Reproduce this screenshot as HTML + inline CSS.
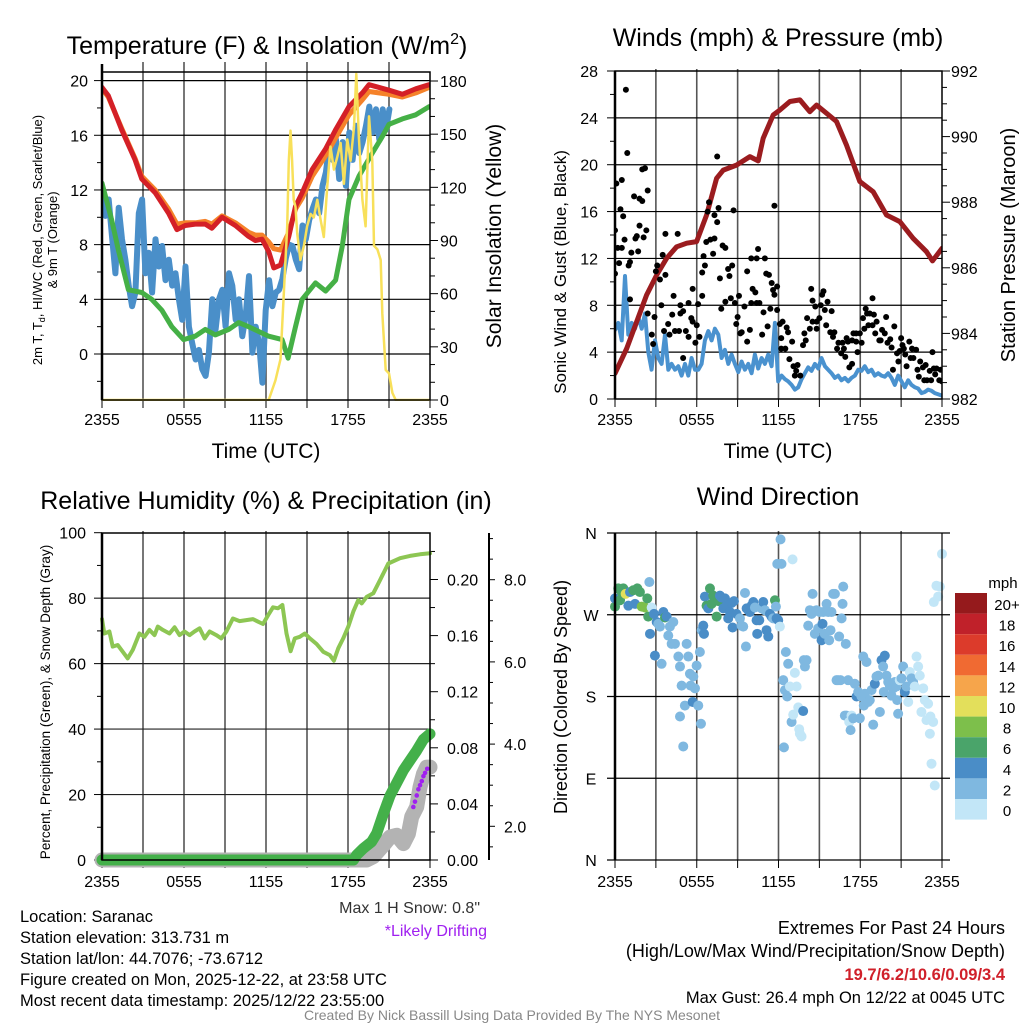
<!DOCTYPE html>
<html><head><meta charset="utf-8"><style>
body{margin:0;background:#fff;}
svg{display:block;font-family:"Liberation Sans",Arial,sans-serif;}
</style></head><body>
<svg id="chart" width="1024" height="1024" viewBox="0 0 1024 1024" xmlns="http://www.w3.org/2000/svg">
<defs>
<clipPath id="c1"><rect x="102" y="60" width="328" height="341"/></clipPath>
<clipPath id="c2"><rect x="615" y="71" width="327" height="330"/></clipPath>
<clipPath id="c3"><rect x="90" y="520" width="352" height="350"/></clipPath>
<clipPath id="c4"><rect x="610" y="525" width="337" height="340"/></clipPath>
</defs>
<g id="g1"></g>
<g id="g2"></g>
<g id="g3"></g>
<g id="g4"></g>
<g id="gt">
<text x="267" y="54" font-size="25" text-anchor="middle">Temperature (F) &amp; Insolation (W/m<tspan dy="-10" font-size="16">2</tspan><tspan dy="10">)</tspan></text>
<text x="778" y="46" font-size="25" text-anchor="middle">Winds (mph) &amp; Pressure (mb)</text>
<text x="266" y="509" font-size="25" text-anchor="middle">Relative Humidity (%) &amp; Precipitation (in)</text>
<text x="778" y="505" font-size="25" text-anchor="middle">Wind Direction</text>
<text x="266" y="458" font-size="21" text-anchor="middle">Time (UTC)</text>
<text x="778" y="458" font-size="21" text-anchor="middle">Time (UTC)</text>
<text transform="translate(42,240) rotate(-90)" font-size="13" text-anchor="middle">2m T, T<tspan dy="3" font-size="9">d</tspan><tspan dy="-3">, HI/WC (Red, Green, Scarlet/Blue)</tspan></text>
<text transform="translate(57,240) rotate(-90)" font-size="13" text-anchor="middle">&amp; 9m T (Orange)</text>
<text transform="translate(501,236) rotate(-90)" font-size="21" text-anchor="middle">Solar Insolation (Yellow)</text>
<text transform="translate(566,272) rotate(-90)" font-size="17" text-anchor="middle">Sonic Wind &amp; Gust (Blue, Black)</text>
<text transform="translate(1015,245) rotate(-90)" font-size="20" text-anchor="middle">Station Pressure (Maroon)</text>
<text transform="translate(50,702) rotate(-90)" font-size="13.5" text-anchor="middle">Percent, Precipitation (Green), &amp; Snow Depth (Gray)</text>
<text transform="translate(567,697) rotate(-90)" font-size="18" text-anchor="middle">Direction (Colored By Speed)</text>
<text x="480" y="913" font-size="16" text-anchor="end" fill="#333">Max 1 H Snow: 0.8"</text>
<text x="487" y="936" font-size="16" text-anchor="end" fill="#a020f0">*Likely Drifting</text>
<g font-size="16.5">
<text x="20" y="922">Location: Saranac</text>
<text x="20" y="943">Station elevation: 313.731 m</text>
<text x="20" y="964">Station lat/lon: 44.7076; -73.6712</text>
<text x="20" y="985">Figure created on Mon, 2025-12-22, at 23:58 UTC</text>
<text x="20" y="1006">Most recent data timestamp: 2025/12/22 23:55:00</text>
</g>
<g font-size="18" text-anchor="end">
<text x="1005" y="934">Extremes For Past 24 Hours</text>
<text x="1005" y="957">(High/Low/Max Wind/Precipitation/Snow Depth)</text>
<text x="1005" y="980" font-size="16.5" font-weight="bold" fill="#d0202a">19.7/6.2/10.6/0.09/3.4</text>
<text x="1005" y="1003" font-size="16.5">Max Gust: 26.4 mph On 12/22 at 0045 UTC</text>
</g>
<text x="512" y="1020" font-size="14" fill="#888" text-anchor="middle">Created By Nick Bassill Using Data Provided By The NYS Mesonet</text>
</g>
</svg>
<script>
// ---------- data ----------
const xTickLabels = ["2355","0555","1155","1755","2355"];
const tempTicks = [20,16,12,8,4,0];
const solarTicks = [180,150,120,90,60,30,0];
const windTicks = [28,24,20,16,12,8,4,0];
const presTicks = [992,990,988,986,984,982];
const rhTicks = [100,80,60,40,20,0];
const precipTicks = ["0.20","0.16","0.12","0.08","0.04","0.00"];
const snowTicks = ["8.0","6.0","4.0","2.0"];
const dirTicks = ["N","W","S","E","N"];
const dirTickDeg = [360,270,180,90,0];

const redT = [0,0.46,1.44,2.42,2.91,3.89,4.87,5.48,6.09,6.82,7.56,8.04,8.78,9.76,10.73,11.22,11.71,12.2,12.57,13.06,13.67,14.16,14.65,15.38,16.36,17.09,18.07,19.05,19.54,21.0,21.98,22.96,23.94];
const redV = [19.5,18.9,16.4,14.2,12.8,11.8,10.3,9.1,9.4,9.5,9.5,9.2,10.0,9.4,8.6,8.3,8.4,7.5,6.3,6.5,8.6,10.8,11.8,13.5,15.0,16.4,18.1,19.1,19.7,19.3,19.0,19.4,19.7];
const orangeV = [19.4,18.8,16.5,14.3,13.0,12.0,10.6,9.5,9.6,9.6,9.7,9.5,10.1,9.6,8.9,8.7,8.7,8.2,7.7,7.6,8.9,10.6,11.4,13.0,14.5,15.8,17.5,18.6,19.2,19.0,18.8,19.1,19.5];
const greenT = [0,0.71,1.2,1.93,2.91,3.64,4.38,5.11,5.97,6.82,7.56,8.29,9.27,10.0,10.73,12.2,13.18,13.62,14.16,14.65,15.62,16.36,17.09,17.58,18.07,18.8,19.78,20.51,21.0,21.98,22.96,23.94];
const greenV = [12.5,9.8,7.6,4.7,4.5,4.0,3.2,2.0,1.05,1.3,1.8,1.4,1.8,2.3,2.0,1.3,1.05,-0.3,2.0,4.0,5.2,4.6,5.4,7.9,11.3,13.0,14.7,15.9,16.8,17.2,17.5,18.1];
const blueStart = 0, blueStep = 0.2445;
const blueV = [11.8,10.1,11.3,8.6,5.9,10.7,8.4,6.9,5.0,3.5,4.5,10.3,11.3,5.9,7.4,4.5,8.4,6.4,7.9,5.4,6.9,5.0,5.9,4.0,2.5,6.4,2.0,0.8,-0.4,0.3,-1.1,-1.6,0.1,4.0,1.8,4.0,4.7,2.0,5.9,5.0,2.5,4.0,1.3,2.8,5.7,0.1,2.0,0.8,-2.1,3.2,5.4,3.5,4.5,4.7,5.5,7.0,8.0,7.9,6.9,6.2,9.4,8.4,9.8,10.6,11.3,10.3,12.3,13.3,15.2,14.2,15.7,12.8,15.5,12.3,16.2,14.2,16.7,14.7,15.5,16.7,18.1,16.2,17.9,15.7,17.9,16.4,17.9];
const solarT = [0,12.2,12.69,13.06,13.3,13.55,13.67,13.79,13.91,14.03,14.16,14.28,14.52,14.77,15.01,15.26,15.5,15.75,15.99,16.23,16.48,16.72,16.97,17.21,17.46,17.7,17.95,18.19,18.44,18.61,18.8,19.05,19.29,19.54,19.78,19.9,20.15,20.39,20.51,20.76,21.0,21.25,21.49,24.0];
const solarV = [0,0,11,23,60,98,135,152,135,113,109,94,79,87,98,105,103,113,102,92,120,143,130,137,145,122,147,135,154,184,148,113,98,160,135,87,85,79,49,17,15,4,0,0];

const presT = [0,0.86,1.59,2.32,3.06,3.79,4.52,5.26,5.99,6.72,7.46,7.95,8.92,9.9,10.51,10.88,11.61,12.1,12.84,13.57,14.3,14.79,15.53,16.26,16.99,17.97,18.95,19.93,20.9,21.88,22.86,23.3,24.0];
const presV = [982.78,983.54,984.36,985.17,985.78,986.29,986.64,986.75,986.8,987.61,988.73,988.98,989.13,989.39,989.26,989.95,990.66,990.81,991.07,991.12,990.76,990.96,990.71,990.46,989.74,988.63,988.32,987.61,987.41,986.9,986.49,986.21,986.59];
const windStart = 0, windStep = 0.2445;
const windV = [5.9,6.5,5.0,10.5,5.5,6.5,6.0,7.0,6.0,7.3,4.0,2.5,5.0,3.5,3.0,5.5,2.5,3.0,2.5,2.8,2.0,3.0,2.0,3.5,2.5,2.5,3.0,5.0,5.8,5.0,6.0,5.5,3.5,4.2,3.0,3.8,3.0,2.3,3.2,2.5,3.0,2.2,3.8,2.6,3.5,3.0,3.8,2.8,6.5,1.5,2.0,1.7,1.5,1.2,0.8,1.0,1.7,2.2,2.7,2.4,3.0,2.6,3.5,2.8,2.5,2.2,1.8,2.0,1.6,1.8,1.5,1.8,2.0,2.5,2.4,2.8,2.3,2.5,2.0,2.2,2.0,1.9,2.2,1.8,1.2,2.0,1.5,1.0,1.6,1.2,1.0,0.9,0.5,0.6,0.8,0.7,0.5,0.4,0.3];
const gustT = [0,0,0.1,0.2,0.3,0.4,0.5,0.6,0.5,0.8,0.9,0.7,1.0,1.1,1.1,1.2,1.4,1.5,1.6,1.7,1.8,1.8,2.0,2.0,2.1,2.2,2.3,2.4,2.4,2.7,2.8,2.9,3.0,3.1,3.3,3.4,3.5,3.6,3.7,3.7,3.9,4.0,4.2,4.3,4.4,4.6,4.7,4.8,4.8,5.0,5.0,5.2,5.4,5.4,5.6,5.7,5.7,5.9,6.0,6.1,6.2,6.4,6.4,6.5,6.6,6.7,6.8,6.9,7.0,7.2,7.3,7.3,7.5,7.5,7.6,7.7,7.8,7.9,8.1,8.1,8.3,8.4,8.5,8.6,8.7,8.8,8.9,9.0,9.1,9.2,9.3,9.5,9.7,9.7,9.9,10.0,10.0,10.1,10.3,10.4,10.4,10.5,10.6,10.8,10.9,11.0,11.1,11.2,11.3,11.4,11.5,11.6,11.7,11.7,11.9,11.9,12.1,12.2,12.2,12.3,12.5,12.6,12.7,12.8,13.0,13.1,13.2,13.3,13.4,13.6,13.8,13.9,14.0,14.1,14.3,14.4,14.5,14.5,14.7,14.8,14.8,15.0,15.1,15.2,15.3,15.4,15.5,15.6,15.8,15.9,16.0,16.1,16.3,16.4,16.6,16.7,16.8,16.9,17.0,17.1,17.2,17.4,17.4,17.5,17.7,17.7,17.8,17.97,18.1,18.2,18.3,18.4,18.5,18.6,18.7,18.9,18.9,19.0,19.1,19.2,19.4,19.5,19.6,19.8,19.9,20.0,20.2,20.3,20.4,20.5,20.7,20.8,20.9,21.0,21.1,21.2,21.3,21.4,21.6,21.7,21.8,21.9,22.1,22.2,22.3,22.4,22.6,22.7,22.8,22.9,23.1,23.2,23.3,23.4,23.5,23.6,23.8,23.9,24.0];
const gustV = [14.4,10.7,18.4,12.9,11.6,16.2,12.9,15.6,18.7,26.4,21.0,13.6,11.4,8.5,11.7,12.5,17.3,13.7,13.9,12.6,14.8,17.1,16.9,19.6,13.8,19.7,14.4,17.8,7.3,5.5,4.7,7.0,10.9,11.4,10.2,8.0,12.3,5.8,14.1,10.6,6.4,5.5,7.2,8.8,5.8,14.1,5.8,8.0,7.3,7.5,3.5,5.8,5.3,8.2,6.9,9.4,6.6,4.8,6.3,8.1,5.3,8.8,10.8,12.2,11.4,13.4,16.0,16.8,13.6,12.4,15.7,13.7,20.7,15.1,16.3,10.3,7.7,13.1,12.9,8.3,11.1,10.5,8.6,11.4,16.1,8.2,6.4,7.0,8.8,5.6,5.7,7.9,10.9,4.9,5.9,8.2,12.0,9.4,9.1,8.2,12.0,12.8,8.2,5.5,7.4,12.0,10.7,6.2,10.6,7.7,9.9,9.3,16.5,8.9,7.6,9.6,6.4,5.2,4.3,6.6,4.3,6.1,5.7,3.4,4.9,2.8,2.0,2.4,2.9,2.0,4.6,5.6,5.0,6.9,6.0,9.4,8.4,6.6,7.9,6.6,6.0,6.9,8.0,8.9,9.2,7.6,6.3,8.3,5.7,7.5,5.3,5.7,4.3,4.8,3.9,4.8,4.3,3.6,5.2,4.9,2.7,5.0,3.0,5.6,4.9,5.6,4.0,5.6,4.8,6.9,6.0,7.7,7.3,6.3,7.3,8.6,6.3,7.2,5.6,6.6,5.0,5.0,5.9,5.6,7.0,4.8,5.1,4.4,2.5,6.2,3.9,3.2,4.1,5.2,4.6,4.3,3.8,2.8,4.9,3.5,4.3,3.5,4.2,2.5,1.9,3.2,2.7,1.6,2.9,1.6,2.4,1.6,4.0,2.6,2.1,2.6,1.6,2.5,1.5];

const rhT = [0,0.17,0.54,0.78,1.15,1.52,1.88,2.25,2.74,3.1,3.47,3.84,4.08,4.45,4.94,5.31,5.67,6.04,6.41,6.77,7.14,7.51,7.87,8.36,8.73,9.1,9.58,10.07,10.56,11.05,11.42,11.78,12.15,12.51,12.88,13.2,13.5,13.8,14.11,14.47,14.84,15.21,15.7,16.19,16.67,16.97,17.29,17.65,18.02,18.39,18.75,19.0,19.36,19.85,20.34,20.95,21.81,22.54,23.27,24.0];
const rhV = [73.6,69.2,69.8,65.2,65.7,63.6,61.6,64.2,69.2,68.2,70.3,68.7,71.3,70.3,69.2,71.1,68.7,69.8,68.7,69.8,70.8,67.7,69.8,68.7,67.7,69.8,73.8,73.0,73.3,73.6,72.8,72.1,74.8,77.2,76.9,77.9,69.2,63.8,67.7,68.2,69.2,67.7,66.0,63.6,62.6,60.9,64.7,67.7,71.3,75.9,79.4,78.4,80.4,81.5,85.5,90.6,92.2,92.9,93.4,93.7];
const precipT = [0,18.4,18.63,19.12,19.73,20.1,20.59,21.08,21.56,22.05,22.54,23.03,23.52,24.0];
const precipV = [0,0,0.0036,0.0083,0.013,0.019,0.033,0.046,0.055,0.064,0.071,0.078,0.086,0.090];
const snowT = [0,19.36,19.85,20.59,21.08,21.56,22.05,22.42,22.66,23.03,23.27,23.52,23.76,24.0];
const snowV = [1.18,1.18,1.26,1.54,1.74,1.78,1.58,1.82,2.23,2.47,2.95,3.27,3.44,3.44];
const driftT = [22.78,22.9,23.03,23.15,23.27,23.4,23.52,23.64,23.8];
const driftV = [2.47,2.6,2.75,2.9,3.0,3.1,3.22,3.3,3.4];

const dirT = [0,0,0.24,0.37,0.49,0.61,0.78,0.98,1.1,1.34,1.47,1.64,1.83,1.96,2.2,2.37,2.44,2.52,2.69,2.86,3.06,3.18,2.57,2.93,3.3,3.55,3.67,3.79,3.42,3.91,4.03,4.28,4.16,4.4,4.65,4.77,4.89,4.77,5.01,5.13,5.26,5.38,5.5,5.55,5.7,5.75,5.87,5.99,6.11,6.23,6.31,6.36,6.48,6.53,6.6,6.72,6.85,6.97,7.09,7.21,7.33,7.46,7.58,7.7,7.82,7.95,8.07,8.19,8.31,8.44,8.56,8.63,8.73,8.92,9.17,9.29,9.41,9.54,9.61,9.66,9.78,9.9,10.02,10.15,10.27,10.39,10.44,10.59,10.76,10.88,11.0,11.12,11.25,11.37,11.49,11.61,11.74,11.81,11.86,11.91,11.98,12.1,12.15,12.22,12.35,12.4,12.47,12.54,12.64,12.71,12.84,12.96,13.03,13.08,13.2,13.33,13.45,13.52,13.57,13.69,13.81,13.86,13.94,14.06,14.18,14.3,14.43,14.5,14.6,14.67,14.79,14.91,15.04,15.16,15.23,15.28,15.4,15.53,15.65,15.72,15.82,15.89,16.01,16.14,16.26,16.38,16.45,16.55,16.63,16.7,16.75,16.87,16.94,16.99,17.11,17.19,17.29,17.36,17.48,17.6,17.73,17.85,17.97,18.09,18.22,18.26,18.34,18.46,18.58,18.7,18.83,18.95,19.07,19.19,19.32,19.44,19.56,19.68,19.73,19.8,19.93,20.05,20.17,20.29,20.42,20.54,20.66,20.71,20.78,20.9,21.03,21.15,21.27,21.39,21.52,21.64,21.76,21.88,22.0,22.13,22.25,22.37,22.49,22.62,22.74,22.86,22.98,23.11,23.15,23.23,23.35,23.4,23.47,23.59,23.72,23.84,24.0];
const dirV = [279,288,299,286,295,299,293,280,295,297,282,299,295,279,278,288,268,306,278,271,262,260,249,225,257,273,267,268,216,247,257,262,238,238,224,213,192,158,125,170,238,224,205,192,174,202,189,214,170,229,150,253,258,249,290,280,277,299,282,291,286,268,285,291,289,277,288,280,266,273,283,256,285,271,266,258,257,294,235,277,275,273,280,284,278,264,249,264,277,284,275,253,246,271,268,266,286,279,266,326,264,257,353,326,198,124,187,229,180,216,191,152,331,160,206,191,168,144,139,136,164,220,213,220,258,275,271,293,274,249,275,255,273,242,260,273,249,282,273,242,253,273,293,293,198,198,246,198,266,282,301,159,238,159,198,152,143,159,156,194,180,185,156,180,224,170,183,218,174,176,187,149,194,202,203,163,220,213,185,225,203,196,192,181,189,196,191,176,161,198,200,213,185,191,174,207,200,196,191,224,213,203,163,189,176,154,172,139,158,106,152,284,82,302,290,301,337];
const dirS = [7,5,7,7,7,7,11,5,5,7,5,7,7,9,9,7,7,3,1,5,5,3,5,5,3,5,7,5,3,3,3,3,3,3,3,3,3,3,3,3,3,3,3,3,5,3,3,3,3,3,3,3,5,5,5,7,5,7,7,7,7,7,7,5,5,5,5,5,5,5,5,5,5,5,3,3,3,3,3,5,5,5,5,5,3,5,5,5,3,5,3,5,5,5,5,3,7,3,5,3,5,1,3,3,3,3,3,3,3,3,1,3,1,1,1,1,1,1,1,1,5,3,3,3,3,3,3,3,3,3,3,3,3,5,5,3,3,3,3,3,3,3,3,3,3,3,3,3,3,3,3,3,3,3,3,1,3,1,3,3,5,3,3,3,3,3,3,3,3,3,3,3,5,3,3,3,5,3,3,5,3,3,3,3,3,3,3,3,3,1,3,3,5,3,1,1,3,3,1,1,1,1,1,1,1,1,1,1,1,1,1,1,1,1,1,1,1];
const speedBins = ["20+","18","16","14","12","10","8","6","4","2","0"];
const binColors = ["#951a1c","#c0212a","#dc3b2b","#f06a32","#f6a54b","#e3df5b","#7dbf4b","#4aa46a","#4a8dc7","#7fb8e0","#c2e6f7"];

// ---------- helpers ----------
const NS = "http://www.w3.org/2000/svg";
function mk(parent, tag, attrs, name) {
  const e = document.createElementNS(NS, tag);
  for (const k in attrs) e.setAttribute(k, attrs[k]);
  
  
  parent.appendChild(e);
  return e;
}
function txt(parent, x, y, s, anchor, size, name) {
  const t = mk(parent, 'text', {x: x, y: y, 'text-anchor': anchor, 'font-size': size}, name);
  t.textContent = s;
  return t;
}
function pathOf(ts, vs, sx, sy) {
  return ts.map((t, i) => (i ? 'L' : 'M') + sx(t).toFixed(1) + ',' + sy(vs[i]).toFixed(1)).join('');
}
function xAxisGrid(g, x0, x1, yTop, yBot, labelY, prefix) {
  const sx = h => x0 + (x1 - x0) * h / 24;
  for (let h = 0; h <= 24; h += 3) {
    if (h > 0 && h < 24) mk(g, 'line', {x1: sx(h), x2: sx(h), y1: yTop - 10, y2: yBot, stroke: '#555', 'stroke-width': 1.6}, prefix + '-vgrid');
    mk(g, 'line', {x1: sx(h), x2: sx(h), y1: yBot, y2: yBot + 8, stroke: '#000', 'stroke-width': 1}, prefix + '-xtick');
  }
  xTickLabels.forEach((l, i) => txt(g, sx(i * 6), labelY, l, 'middle', 16, prefix + '-xtick-label'));
  return sx;
}

// ---------- Panel 1 ----------
(function () {
  const g = document.getElementById('g1');
  const x0 = 102, x1 = 430, yTop = 72, yBot = 400;
  const sy = v => 354 - v * 13.67;
  const ss = v => 400 - v * 319 / 180;
  const sx = xAxisGrid(g, x0, x1, yTop, yBot, 425, 'temp');
  tempTicks.forEach(v => {
    mk(g, 'line', {x1: x0, x2: x1, y1: sy(v), y2: sy(v), stroke: '#000', 'stroke-width': 1.2}, 'temp-hgrid');
    mk(g, 'line', {x1: x0 - 8, x2: x0, y1: sy(v), y2: sy(v), stroke: '#000'}, 'temp-ytick');
    txt(g, x0 - 14, sy(v) + 6, String(v), 'end', 16, 'temp-ytick-label');
  });
  for (let v = -2; v <= 18; v += 4) mk(g, 'line', {x1: x0 - 5, x2: x0, y1: sy(v), y2: sy(v), stroke: '#000'}, 'temp-minor-tick');
  solarTicks.forEach(v => {
    mk(g, 'line', {x1: x1, x2: x1 + 8, y1: ss(v), y2: ss(v), stroke: '#000'}, 'solar-ytick');
    txt(g, x1 + 10, ss(v) + 6, String(v), 'start', 16, 'solar-ytick-label');
  });
  for (let v = 10; v < 180; v += 10) if (v % 30) mk(g, 'line', {x1: x1, x2: x1 + 5, y1: ss(v), y2: ss(v), stroke: '#000'}, 'solar-minor-tick');
  const c = mk(g, 'g', {'clip-path': 'url(#c1)', fill: 'none', 'stroke-linejoin': 'round', 'stroke-linecap': 'round'}, 'temp-series');
  const bT = blueV.map((v, i) => blueStart + i * blueStep);
  mk(c, 'path', {d: pathOf(bT, blueV, sx, sy), stroke: '#4a8fc9', 'stroke-width': 6}, 'wind-chill-line');
  mk(c, 'path', {d: pathOf(greenT, greenV, sx, sy), stroke: '#45b046', 'stroke-width': 5}, 'dewpoint-line');
  mk(c, 'path', {d: pathOf(redT, orangeV, sx, sy), stroke: '#f5822a', 'stroke-width': 5}, 'temp-9m-line');
  mk(c, 'path', {d: pathOf(redT, redV, sx, sy), stroke: '#d42027', 'stroke-width': 5}, 'temp-2m-line');
  mk(c, 'path', {d: pathOf(solarT, solarV, sx, ss), stroke: '#f8e05a', 'stroke-width': 2.5}, 'solar-line');
  mk(g, 'rect', {x: x0, y: yTop, width: x1 - x0, height: yBot - yTop, fill: 'none', stroke: '#000', 'stroke-width': 1.5}, 'temp-plot-frame');
  mk(g, 'line', {x1: x0, x2: x0, y1: yTop - 8, y2: yBot, stroke: '#000', 'stroke-width': 2.5}, 'temp-y-axis');
})();

// ---------- Panel 2 ----------
(function () {
  const g = document.getElementById('g2');
  const x0 = 615, x1 = 942, yTop = 71, yBot = 399;
  const sy = v => 399 - v * 328 / 28;
  const sp = v => 399 - (v - 982) * 32.8;
  const sx = xAxisGrid(g, x0, x1, yTop + 8, yBot, 425, 'wind');
  windTicks.forEach(v => {
    if (v > 0 && v < 28) mk(g, 'line', {x1: x0, x2: x1, y1: sy(v), y2: sy(v), stroke: '#000', 'stroke-width': 1.2}, 'wind-hgrid');
    mk(g, 'line', {x1: x0 - 8, x2: x0, y1: sy(v), y2: sy(v), stroke: '#000'}, 'wind-ytick');
    txt(g, x0 - 17, sy(v) + 6, String(v), 'end', 16, 'wind-ytick-label');
  });
  for (let v = 2; v < 28; v += 4) mk(g, 'line', {x1: x0 - 5, x2: x0, y1: sy(v), y2: sy(v), stroke: '#000'}, 'wind-minor-tick');
  presTicks.forEach(v => {
    mk(g, 'line', {x1: x1, x2: x1 + 8, y1: sp(v), y2: sp(v), stroke: '#000'}, 'pressure-ytick');
    txt(g, x1 + 9, sp(v) + 6, String(v), 'start', 16, 'pressure-ytick-label');
  });
  for (let v = 982.5; v < 992; v += 0.5) if (v % 2) mk(g, 'line', {x1: x1, x2: x1 + 5, y1: sp(v), y2: sp(v), stroke: '#000'}, 'pressure-minor-tick');
  const c = mk(g, 'g', {'clip-path': 'url(#c2)', fill: 'none', 'stroke-linejoin': 'round', 'stroke-linecap': 'round'}, 'wind-series');
  const wT = windV.map((v, i) => windStart + i * windStep);
  mk(c, 'path', {d: pathOf(wT, windV, sx, sy), stroke: '#4a92cf', 'stroke-width': 4}, 'sonic-wind-line');
  mk(c, 'path', {d: pathOf(presT, presV, sx, sp), stroke: '#9b1c1f', 'stroke-width': 5}, 'pressure-line');
  gustT.forEach((t, i) => mk(c, 'circle', {cx: sx(t), cy: sy(gustV[i]), r: 3, fill: '#000'}, 'gust-point'));
  mk(g, 'rect', {x: x0, y: yTop, width: x1 - x0, height: yBot - yTop, fill: 'none', stroke: '#000', 'stroke-width': 1.5}, 'wind-plot-frame');
  mk(g, 'line', {x1: x0, x2: x0, y1: yTop, y2: yBot, stroke: '#000', 'stroke-width': 2.5}, 'wind-y-axis');
})();

// ---------- Panel 3 ----------
(function () {
  const g = document.getElementById('g3');
  const x0 = 102, x1 = 430, yTop = 533, yBot = 860;
  const sy = v => 860 - v * 3.273;
  const spc = v => 860 - v * 1402.5;
  const ssn = v => 908.5 - v * 41.1;
  const sx = xAxisGrid(g, x0, x1, yTop + 8, yBot, 887, 'rh');
  rhTicks.forEach(v => {
    if (v > 0 && v < 100) mk(g, 'line', {x1: x0, x2: x1, y1: sy(v), y2: sy(v), stroke: '#222', 'stroke-width': 1.2}, 'rh-hgrid');
    mk(g, 'line', {x1: x0 - 8, x2: x0, y1: sy(v), y2: sy(v), stroke: '#000'}, 'rh-ytick');
    txt(g, x0 - 16, sy(v) + 6, String(v), 'end', 16, 'rh-ytick-label');
  });
  for (let v = 10; v < 100; v += 20) mk(g, 'line', {x1: x0 - 5, x2: x0, y1: sy(v), y2: sy(v), stroke: '#000'}, 'rh-minor-tick');
  precipTicks.forEach(s => {
    const v = parseFloat(s);
    mk(g, 'line', {x1: x1, x2: x1 + 8, y1: spc(v), y2: spc(v), stroke: '#000'}, 'precip-ytick');
    txt(g, x1 + 17, spc(v) + 6, s, 'start', 16, 'precip-ytick-label');
  });
  for (let v = 0.02; v < 0.23; v += 0.04) mk(g, 'line', {x1: x1, x2: x1 + 5, y1: spc(v), y2: spc(v), stroke: '#000'}, 'precip-minor-tick');
  mk(g, 'line', {x1: 489, x2: 489, y1: 533, y2: 860, stroke: '#000', 'stroke-width': 2}, 'snow-axis');
  snowTicks.forEach(s => {
    const v = parseFloat(s);
    mk(g, 'line', {x1: 489, x2: 495, y1: ssn(v), y2: ssn(v), stroke: '#000'}, 'snow-ytick');
    txt(g, 504, ssn(v) + 6, s, 'start', 16, 'snow-ytick-label');
  });
  for (let v = 1.5; v <= 9.0; v += 0.5) if (v % 2) mk(g, 'line', {x1: 489, x2: 493, y1: ssn(v), y2: ssn(v), stroke: '#000'}, 'snow-minor-tick');
  const c = mk(g, 'g', {'clip-path': 'url(#c3)', fill: 'none', 'stroke-linejoin': 'round', 'stroke-linecap': 'round'}, 'rh-series');
  mk(c, 'path', {d: pathOf(rhT, rhV, sx, sy), stroke: '#8dc653', 'stroke-width': 4}, 'rh-line');
  mk(c, 'path', {d: pathOf(snowT, snowV, sx, ssn), stroke: '#b3b3b3', 'stroke-width': 15}, 'snow-depth-line');
  mk(c, 'path', {d: pathOf(precipT, precipV, sx, spc), stroke: '#44b04a', 'stroke-width': 11}, 'precip-line');
  driftT.forEach((t, i) => mk(c, 'circle', {cx: sx(t), cy: ssn(driftV[i]), r: 2.3, fill: '#a020f0'}, 'drift-point'));
  mk(g, 'rect', {x: x0, y: yTop, width: x1 - x0, height: yBot - yTop, fill: 'none', stroke: '#000', 'stroke-width': 1.5}, 'rh-plot-frame');
  mk(g, 'line', {x1: x0, x2: x0, y1: yTop, y2: yBot, stroke: '#000', 'stroke-width': 2.5}, 'rh-y-axis');
})();

// ---------- Panel 4 ----------
(function () {
  const g = document.getElementById('g4');
  const x0 = 615, x1 = 942, yTop = 533, yBot = 860;
  const sy = d => 860 - d * 0.9083;
  const sx = xAxisGrid(g, x0, x1, yTop + 8, yBot, 887, 'dir');
  dirTicks.forEach((l, i) => {
    const y = sy(dirTickDeg[i]);
    mk(g, 'line', {x1: x0 - 8, x2: x1 + 8, y1: y, y2: y, stroke: '#000', 'stroke-width': 1.2}, 'dir-hgrid');
    txt(g, x0 - 24, y + 6, l, 'middle', 16, 'dir-ytick-label');
  });
  const c = mk(g, 'g', {'clip-path': 'url(#c4)'}, 'dir-series');
  dirT.forEach((t, i) => {
    const bin = Math.min(10, Math.floor(dirS[i] / 2));
    mk(c, 'circle', {cx: sx(t), cy: sy(dirV[i]), r: 5, fill: binColors[10 - bin]}, 'dir-point');
  });
  mk(g, 'line', {x1: x0, x2: x0, y1: yTop, y2: yBot, stroke: '#000', 'stroke-width': 2.5}, 'dir-y-axis');
  mk(g, 'line', {x1: x1, x2: x1, y1: yTop, y2: yBot, stroke: '#000', 'stroke-width': 1.2}, 'dir-right-axis');
  const lg = mk(g, 'g', {}, 'speed-legend');
  txt(lg, 1003, 588, 'mph', 'middle', 15, 'legend-title');
  speedBins.forEach((l, i) => {
    mk(lg, 'rect', {x: 955, y: 593 + i * 20.6, width: 32, height: 20.6, fill: binColors[i]}, 'legend-swatch');
    txt(lg, 1007, 610 + i * 20.6, l, 'middle', 15, 'legend-entry');
  });
})();
</script>
</body></html>
